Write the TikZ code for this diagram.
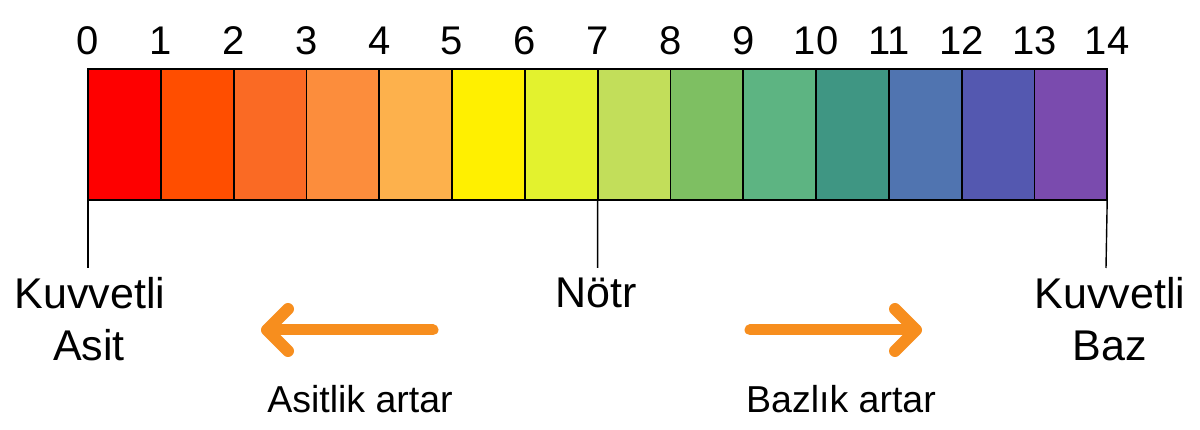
\documentclass[tikz,border=0pt]{standalone}
\usepackage{fontspec}
\setmainfont{Liberation Sans}
\usetikzlibrary{calc}
\definecolor{ph0}{RGB}{254,0,0}
\definecolor{ph1}{RGB}{255,78,0}
\definecolor{ph2}{RGB}{250,106,36}
\definecolor{ph3}{RGB}{252,141,60}
\definecolor{ph4}{RGB}{253,177,76}
\definecolor{ph5}{RGB}{255,240,0}
\definecolor{ph6}{RGB}{227,242,46}
\definecolor{ph7}{RGB}{194,222,90}
\definecolor{ph8}{RGB}{126,191,98}
\definecolor{ph9}{RGB}{93,180,130}
\definecolor{ph10}{RGB}{63,150,131}
\definecolor{ph11}{RGB}{80,116,176}
\definecolor{ph12}{RGB}{84,88,176}
\definecolor{ph13}{RGB}{122,75,174}
\definecolor{arrorange}{RGB}{247,142,30}
\begin{document}
\begin{tikzpicture}[x=1pt,y=-1pt,
  cell/.style={draw=black,line width=1.8pt,inner sep=0pt,outer sep=0pt,
    minimum width=72.8pt,minimum height=131pt},
  numlabel/.style={anchor=base,inner sep=0pt,font=\fontsize{40}{46}\selectfont},
  biglabel/.style={anchor=base,inner sep=0pt,font=\fontsize{43}{50}\selectfont},
  smalllabel/.style={anchor=base,inner sep=0pt,font=\fontsize{37.5}{44}\selectfont},
  tickline/.style={draw=black,line width=1.4pt},
  shaft/.style={draw=arrorange,line width=11pt,line cap=round},
  chevron/.style={draw=arrorange,line width=12pt,line cap=round,line join=round}]
\useasboundingbox (0,0) rectangle (1200,430);
\fill[white] (0,0) rectangle (1200,430);
% colour cells
\foreach \i in {0,...,13}{
  \node[cell,fill=ph\i] (c\i) at ({88+72.8*\i+36.4},134.5) {};
}
% numbers
\foreach \i in {0,...,14}{
  \node[numlabel] (n\i) at ({88+72.8*\i},54.5) {\i};
}
% tick end points
\coordinate (t0) at (88,268);
\coordinate (t7) at (597.6,268);
\coordinate (t14) at (1106,268);
\draw[tickline] (c0.south west) -- (t0);
\draw[tickline] (c7.south west) -- (t7);
\draw[tickline] (c13.south east) -- (t14);
% labels
\node[biglabel] (kva) at (90,309) {Kuvvetli};
\node[biglabel] (asit) at (89,361) {Asit};
\node[biglabel] (notr) at (596,308) {Nötr};
\node[biglabel] (kvb) at (1110,309) {Kuvvetli};
\node[biglabel] (baz) at (1110,361) {Baz};
\node[smalllabel] (asart) at (360,412) {Asitlik artar};
\node[smalllabel] (bzart) at (841,412) {Bazlık artar};
% arrows
\coordinate (la1) at (433,330);
\coordinate (la2) at (267,330);
\draw[shaft] (la1) -- (la2);
\draw[chevron] ($(la2)+(21,-21)$) -- (la2) -- ($(la2)+(21,21)$);
\coordinate (ra1) at (750,330);
\coordinate (ra2) at (916,330);
\draw[shaft] (ra1) -- (ra2);
\draw[chevron] ($(ra2)+(-21,-21)$) -- (ra2) -- ($(ra2)+(-21,21)$);
\end{tikzpicture}
\end{document}
